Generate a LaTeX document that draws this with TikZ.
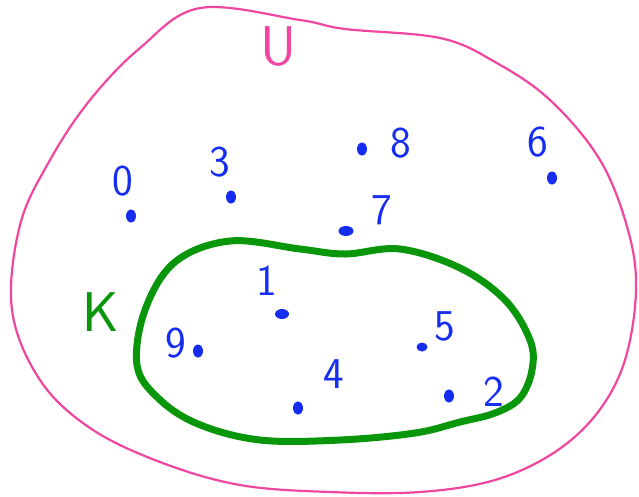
\documentclass[tikz,border=0pt]{standalone}
\usepackage{tikz}
\usetikzlibrary{positioning, shapes.geometric}
\definecolor{setPink}{RGB}{240, 70, 160}
\definecolor{setGreen}{RGB}{10, 150, 10}
\definecolor{elemBlue}{RGB}{20, 45, 240}
\tikzset{
  dotmark/.style={
    ellipse, fill=elemBlue, inner sep=0pt,
    minimum width=10pt, minimum height=13pt
  },
  numlabel/.style={
    text=elemBlue, inner sep=0pt,
    font=\fontsize{44}{44}\selectfont\sffamily
  },
  setlabel/.style={
    inner sep=0pt,
    font=\fontsize{56}{56}\selectfont\sffamily
  }
}
\begin{document}
\begin{tikzpicture}[x=1pt, y=-1pt,
  uline/.style={draw=setPink, line width=2.2pt},
  kline/.style={draw=setGreen, line width=7pt}
]
  \useasboundingbox (0,0) rectangle (639,496);

  % universal set U
  \draw[uline] plot[smooth cycle, tension=0.6] coordinates {
    (200,8) (300,20) (345,29) (440,38) (495,62) (550,100) (600,160)
    (628,230) (636,290) (625,360) (598,412) (555,452) (495,480)
    (420,492) (330,492) (240,485) (160,462) (90,428) (40,380)
    (12,310) (20,225) (50,160) (90,100) (140,48)
  };
  \node[setlabel, text=setPink] (U) at (279,47) {U};

  % subset K
  \draw[kline] plot[smooth cycle, tension=0.6] coordinates {
    (175,262) (230,241) (300,249) (345,254) (400,249) (460,268)
    (505,300) (530,340) (532,370) (520,398) (495,413) (460,422)
    (415,433) (340,440) (260,440) (198,424) (158,398) (137,365)
    (145,310)
  };
  \node[setlabel, text=setGreen] (K) at (101,312) {K};

  % elements outside K
  \node[dotmark] (d0) at (131,216) {};
  \node[numlabel] (n0) at (123,181) {0};
  \node[dotmark] (d3) at (231,197) {};
  \node[numlabel] (n3) at (220,162) {3};
  \node[dotmark] (d8) at (362,149) {};
  \node[numlabel] (n8) at (401,143) {8};
  \node[dotmark] (d6) at (552,178) {};
  \node[numlabel] (n6) at (538,142) {6};
  \node[dotmark, minimum width=15pt, minimum height=10pt] (d7) at (346,231) {};
  \node[numlabel] (n7) at (382,210) {7};

  % elements of K
  \node[dotmark, minimum width=14pt, minimum height=10pt] (d1) at (282,314) {};
  \node[numlabel] (n1) at (267,281) {1};
  \node[dotmark] (d9) at (198,351) {};
  \node[numlabel] (n9) at (176,343) {9};
  \node[dotmark, minimum width=11pt, minimum height=9pt] (d5) at (422,347) {};
  \node[numlabel] (n5) at (445,326) {5};
  \node[dotmark] (d4) at (298,408) {};
  \node[numlabel] (n4) at (334,374) {4};
  \node[dotmark] (d2) at (449,396) {};
  \node[numlabel] (n2) at (494,392) {2};
\end{tikzpicture}
\end{document}
